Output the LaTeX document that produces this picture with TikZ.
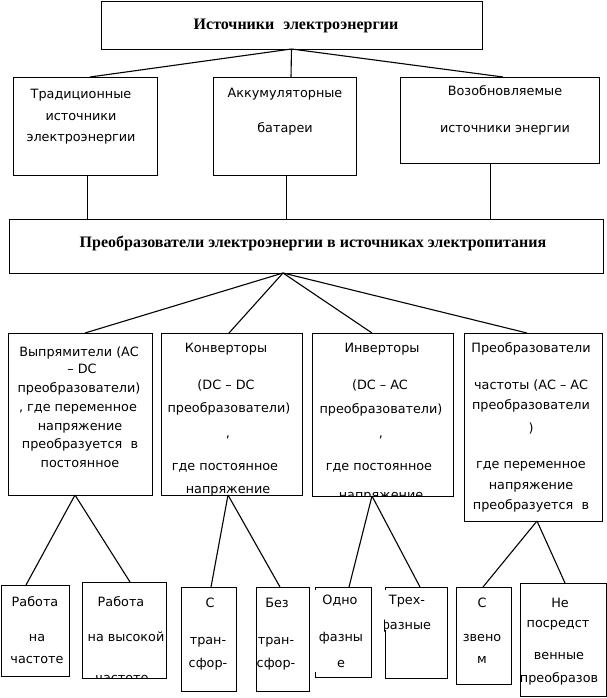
\documentclass[tikz,border=0pt]{standalone}
\usepackage{fontspec}
\setmainfont{Liberation Serif}
\newfontfamily\boxsans{DejaVu Sans}
\newcommand\cliptext[2]{\begin{scope}\clip (#1.north west) rectangle (#1.south east); #2 \end{scope}}
\begin{document}
\begin{tikzpicture}[x=1pt,y=-1pt,
  box/.style={draw, line width=0.8pt, inner sep=0pt, outer sep=0pt, anchor=north west},
  nobox/.style={inner sep=0pt, outer sep=0pt, anchor=north west},
  edge/.style={line width=0.8pt},
  conn/.style={line width=1.1pt},
  txt/.style={font=\boxsans\fontsize{12.8}{15}\selectfont, anchor=base, inner sep=0pt},
  head/.style={font=\bfseries\fontsize{16}{19}\selectfont, anchor=base, inner sep=0pt}]
\useasboundingbox (0,0) rectangle (607,698);

% ---------- boxes ----------
\node[box, minimum width=381pt, minimum height=48pt] (top) at (101,1) {};
\node[box, minimum width=144pt, minimum height=98pt] (b1) at (13,77) {};
\node[box, minimum width=143pt, minimum height=98pt] (b2) at (213,77) {};
\node[box, minimum width=199pt, minimum height=86pt] (b3) at (400,77) {};
\node[box, minimum width=594pt, minimum height=54pt] (big) at (9,219) {};
\node[box, minimum width=144pt, minimum height=162pt] (r1) at (8,333) {};
\node[box, minimum width=141pt, minimum height=162pt] (r2) at (161,333) {};
\node[box, minimum width=141pt, minimum height=163pt] (r3) at (312,333) {};
\node[box, minimum width=138pt, minimum height=188pt] (r4) at (464,333) {};
\node[box, minimum width=68pt, minimum height=91pt] (l1) at (1,585) {};
\node[box, minimum width=84pt, minimum height=96pt] (l2) at (82,582) {};
\node[box, minimum width=55pt, minimum height=104pt] (l3) at (181,587) {};
\node[box, minimum width=53pt, minimum height=104pt] (l4) at (256,587) {};
\node[nobox, minimum width=56pt, minimum height=90pt] (l5) at (315,587) {};
\node[nobox, minimum width=62pt, minimum height=91pt] (l6) at (385,587) {};
\node[box, minimum width=55pt, minimum height=97pt] (l7) at (456,587) {};
\node[box, minimum width=86pt, minimum height=113pt] (l8) at (520,583) {};

% partially drawn borders
\draw[edge] (l5.north west) -- (l5.north east) -- (l5.south east) -- (l5.south west);
\draw[edge] (l5.north west) -- ([yshift=-3pt]l5.north west);
\draw[edge] ([yshift=5pt]l5.south west) -- (l5.south west);
\draw[edge] (l6.north west) -- (l6.north east) -- (l6.south east) -- (l6.south west);
\draw[edge] (l6.north west) -- ([yshift=-3pt]l6.north west);
\draw[edge] ([yshift=48pt]l6.south west) -- (l6.south west);

% ---------- connectors ----------
\draw[conn] (top.south) -- ([xshift=77pt]b1.north west);
\draw[conn] (top.south) -- ([xshift=78pt]b2.north west);
\draw[conn] (top.south) -- ([xshift=103pt]b3.north west);
\draw[edge] ([xshift=74pt]b1.south west) -- ([xshift=74pt]b1.south west |- big.north);
\draw[edge] ([xshift=73pt]b2.south west) -- ([xshift=73pt]b2.south west |- big.north);
\draw[edge] ([xshift=90pt]b3.south west) -- ([xshift=90pt]b3.south west |- big.north);

\draw[conn] ([xshift=274pt]big.south west) -- ([xshift=77pt]r1.north west);
\draw[conn] ([xshift=274pt]big.south west) -- ([xshift=68pt]r2.north west);
\draw[conn] ([xshift=274pt]big.south west) -- ([xshift=60pt]r3.north west);
\draw[conn] ([xshift=274pt]big.south west) -- ([xshift=63pt]r4.north west);

\draw[conn] ([xshift=67pt]r1.south west) -- ([xshift=25pt]l1.north west);
\draw[conn] ([xshift=67pt]r1.south west) -- ([xshift=48pt]l2.north west);
\draw[conn] ([xshift=67pt]r2.south west) -- ([xshift=30pt]l3.north west);
\draw[conn] ([xshift=67pt]r2.south west) -- ([xshift=24pt]l4.north west);
\draw[conn] ([xshift=60pt]r3.south west) -- ([xshift=34pt]l5.north west);
\draw[conn] ([xshift=60pt]r3.south west) -- ([xshift=35pt]l6.north west);
\draw[conn] ([xshift=73pt]r4.south west) -- ([xshift=27pt]l7.north west);
\draw[conn] ([xshift=73pt]r4.south west) -- ([xshift=45pt]l8.north west);

% ---------- texts ----------
\node[head] (toptxt) at (296,30) {Источники\hspace{9pt}электроэнергии};
\node[head] (bigtxt) at (313,247) {Преобразователи электроэнергии в источниках электропитания};

\node[txt] (b1a) at (81,99) {Традиционные};
\node[txt] (b1b) at (81,121) {источники};
\node[txt] (b1c) at (81,142) {электроэнергии};

\node[txt] (b2a) at (285,98) {Аккумуляторные};
\node[txt] (b2b) at (285,132) {батареи};

\node[txt] (b3a) at (505,96) {Возобновляемые};
\node[txt] (b3b) at (505,132) {источники энергии};

\cliptext{r1}{
\node[txt] (r1a) at (79,356) {Выпрямители (AC};
\node[txt] (r1b) at (82,373) {– DC};
\node[txt] (r1c) at (79,392) {преобразователи)};
\node[txt] (r1d) at (78,411) {, где переменное};
\node[txt] (r1e) at (80,430) {напряжение};
\node[txt] (r1f) at (80,448) {преобразуется~~в};
\node[txt] (r1g) at (80,467) {постоянное};
}
\cliptext{r2}{
\node[txt] (r2a) at (226,352) {Конверторы};
\node[txt] (r2b) at (226,389) {(DC – DC};
\node[txt] (r2c) at (229,412) {преобразователи)};
\node[txt] (r2d) at (228,437) {,};
\node[txt] (r2e) at (225,470) {где постоянное};
\node[txt] (r2f) at (228,493) {напряжение};
}
\cliptext{r3}{
\node[txt] (r3a) at (382,352) {Инверторы};
\node[txt] (r3b) at (380,389) {(DC – AC};
\node[txt] (r3c) at (381,413) {преобразователи)};
\node[txt] (r3d) at (381,437) {,};
\node[txt] (r3e) at (379,470) {где постоянное};
\node[txt] (r3f) at (381,499) {напряжение};
}
\cliptext{r4}{
\node[txt] (r4a) at (531,352) {Преобразователи};
\node[txt] (r4b) at (531,389) {частоты (AC – AC};
\node[txt] (r4c) at (531,409) {преобразователи};
\node[txt] (r4d) at (531,432) {)};
\node[txt] (r4e) at (531,468) {где переменное};
\node[txt] (r4f) at (531,489) {напряжение};
\node[txt] (r4g) at (531,509) {преобразуется~~в};
}
\cliptext{l1}{
\node[txt] (l1a) at (35,606) {Работа};
\node[txt] (l1b) at (37,641) {на};
\node[txt] (l1c) at (37,663) {частоте};
}
\cliptext{l2}{
\node[txt] (l2a) at (121,606) {Работа};
\node[txt] (l2b) at (126,641) {на высокой};
\node[txt] (l2c) at (122,682) {частоте};
}
\cliptext{l3}{
\node[txt] (l3a) at (210,607) {С};
\node[txt] (l3b) at (208,644) {тран-};
\node[txt] (l3c) at (208,667) {сфор-};
}
\cliptext{l4}{
\node[txt] (l4a) at (277,607) {Без};
\node[txt] (l4b) at (276,644) {тран-};
\node[txt] (l4c) at (276,667) {сфор-};
}
\cliptext{l5}{
\node[txt] (l5a) at (340,604) {Одно};
\node[txt] (l5b) at (341,641) {фазны};
\node[txt] (l5c) at (341,667) {е};
}
\begin{scope}
\clip ([xshift=-1pt]l6.north west) rectangle (l6.south east);
\node[txt] (l6a) at (407,604) {Трех-};
\node[txt] (l6b) at (405,629) {фазные};
\end{scope}
\cliptext{l7}{
\node[txt] (l7a) at (482,607) {С};
\node[txt] (l7b) at (482,641) {звено};
\node[txt] (l7c) at (482,663) {м};
}
\cliptext{l8}{
\node[txt] (l8a) at (560,607) {Не};
\node[txt] (l8b) at (558,627) {посредст};
\node[txt] (l8c) at (559,659) {венные};
\node[txt] (l8d) at (559,682) {преобразов};
}
\end{tikzpicture}
\end{document}
